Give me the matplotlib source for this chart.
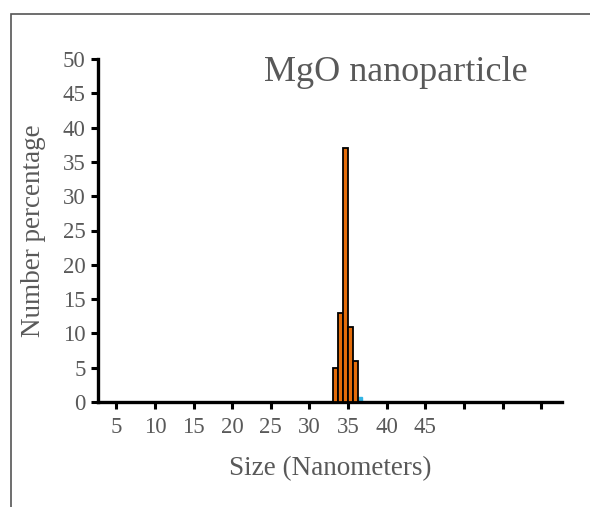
import matplotlib
matplotlib.use("Agg")
import matplotlib.pyplot as plt
from matplotlib.patches import Rectangle

# size bins (nm) and number percentage
sizes = [33.4, 34.05, 34.73, 35.36, 35.99]
percent = [5, 13, 37, 11, 6]
# small second series (blue)
sizes_b = [36.5]
percent_b = [0.8]

x_ticks = [5, 10, 15, 20, 25, 30, 35, 40, 45, 50, 55, 60]
x_labels = ['5', '10', '15', '20', '25', '30', '35', '40', '45', '', '', '']
y_ticks = [0, 5, 10, 15, 20, 25, 30, 35, 40, 45, 50]

plt.rcParams['font.family'] = ['Liberation Serif', 'DejaVu Serif']
gray = '#595959'

fig = plt.figure(figsize=(5.9, 5.07), dpi=100)
ax = fig.add_axes([98/590, 1-402/507, (562-98)/590, (402-59)/507])

# outer frame of the chart area
fig.patches.append(Rectangle((11/590, -0.05), 1.0, 1-14/507+0.05, transform=fig.transFigure,
                             fill=False, edgecolor='#555555', linewidth=1.2))

ax.bar(sizes, percent, width=0.65, color='#E36C0A', edgecolor='black', linewidth=1.3, zorder=3)
ax.bar(sizes_b, percent_b, width=0.65, color='#33B5E5', edgecolor='#33B5E5', linewidth=1.0, zorder=2)

ax.set_xlim(2.62, 62.7)
ax.set_ylim(0, 50)
ax.set_xticks(x_ticks)
ax.set_xticklabels(x_labels)
ax.set_yticks(y_ticks)

for s in ['top', 'right']:
    ax.spines[s].set_visible(False)
for s in ['left', 'bottom']:
    ax.spines[s].set_linewidth(2.4)
    ax.spines[s].set_color('black')

ax.tick_params(axis='both', colors='black', width=2.2, length=5, direction='out',
               labelsize=16.5, labelcolor=gray)
ax.tick_params(axis='x', pad=6)
ax.tick_params(axis='y', pad=4)

ax.set_xlabel('Size (Nanometers)', fontsize=19.5, color=gray, labelpad=13)
ax.set_ylabel('Number percentage', fontsize=19.5, color=gray, labelpad=12)
fig.text(396/590, 1-56/507, 'MgO nanoparticle', ha='center', va='top',
         fontsize=26, color=gray)

fig.savefig('out.png', dpi=100)
